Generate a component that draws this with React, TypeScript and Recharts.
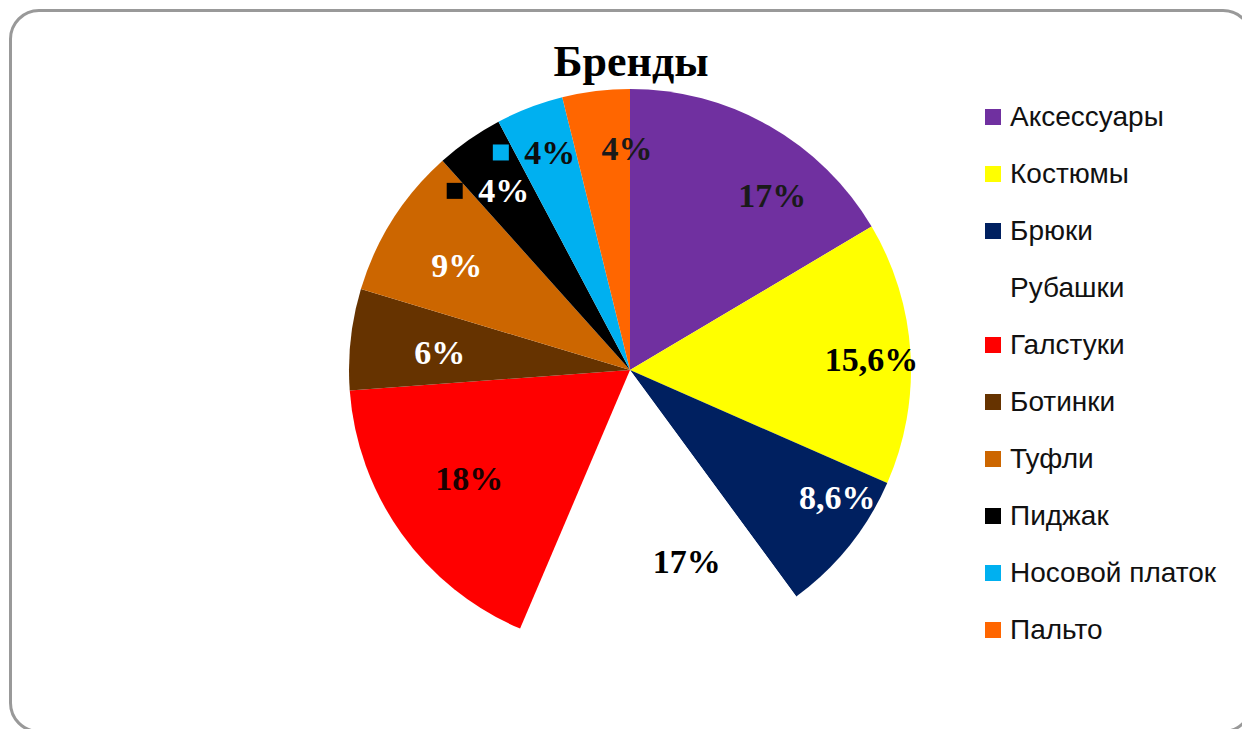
import { PieChart, Pie, Cell, Legend } from 'recharts';

const categories = [
  'Аксессуары',
  'Костюмы',
  'Брюки',
  'Рубашки',
  'Галстуки',
  'Ботинки',
  'Туфли',
  'Пиджак',
  'Носовой платок',
  'Пальто',
];
const shares = [17, 15.6, 8.6, 17, 18, 6, 9, 4, 4, 4];

const colors = [
  '#7030A0',
  '#FFFF00',
  '#002060',
  '#FFFFFF',
  '#FF0000',
  '#663300',
  '#CC6600',
  '#000000',
  '#00B0F0',
  '#FF6600',
];
const labelColors = ['#1a1a1a', '#000', '#fff', '#000', '#1a0000', '#fff', '#fff', '#fff', '#0d0d0d', '#1a1a1a'];
// label placement: [radius as share of outer radius, clockwise angle shift in degrees]
const labelPlace: [number, number][] = [
  [0.8, 9.6],
  [0.86, 1.1],
  [0.865, -7.2],
  [0.71, -9.9],
  [0.69, 1.6],
  [0.68, -0.9],
  [0.72, -1.3],
  [0.78, -0.3],
  [0.825, 0.7],
  [0.79, 6.2],
];
const labelKey = [false, false, false, false, false, false, false, true, true, false];

const data = categories.map((name, i) => ({ name, value: shares[i] }));
const RAD = Math.PI / 180;

const fmt = (v: number) => String(v).replace('.', ',') + '%';

function SliceLabel(props: any) {
  const { cx, cy, midAngle, outerRadius, index, value } = props;
  const [k, shift] = labelPlace[index];
  const a = (midAngle - shift) * RAD;
  const r = outerRadius * k;
  const x = cx + r * Math.cos(a);
  const y = cy - r * Math.sin(a);
  return (
    <g>
      {labelKey[index] && (
        <rect x={x - 57} y={y - 8} width={16} height={16} fill={colors[index]} />
      )}
      <text
        x={x}
        y={y}
        textAnchor="middle"
        dominantBaseline="central"
        fill={labelColors[index]}
        style={{ fontFamily: '"Liberation Serif", "Times New Roman", serif', fontWeight: 700, fontSize: 34 }}
      >
        {fmt(value)}
      </text>
    </g>
  );
}

// keep the legend in the slice order (recharts sorts it by name otherwise)
function LegendList() {
  return (
    <div style={{ fontFamily: '"Liberation Sans", Arial, sans-serif', fontSize: 28, color: '#111' }}>
      {data.map((d, i) => (
        <div key={d.name} style={{ display: 'flex', alignItems: 'center', height: 57 }}>
          <span style={{ width: 16, height: 16, background: colors[i], marginRight: 9, flex: 'none' }} />
          <span>{d.name}</span>
        </div>
      ))}
    </div>
  );
}

export default function App() {
  return (
    <div
      style={{
        position: 'absolute',
        left: 0,
        top: 0,
        width: 1242,
        height: 729,
        overflow: 'hidden',
        background: '#fff',
      }}
    >
      <div
        style={{
          position: 'absolute',
          left: 9,
          top: 9,
          width: 1244,
          height: 724,
          border: '3px solid #999',
          borderRadius: 30,
          boxSizing: 'border-box',
        }}
      />
      <div
        style={{
          position: 'absolute',
          left: 0,
          top: 36,
          width: 1262,
          textAlign: 'center',
          fontFamily: '"Liberation Serif", "Times New Roman", serif',
          fontWeight: 700,
          fontSize: 44,
          color: '#000',
        }}
      >
        Бренды
      </div>
      <div style={{ position: 'absolute', left: 0, top: 0 }}>
        <PieChart width={1242} height={729} margin={{ top: 0, right: 0, bottom: 0, left: 0 }}>
          <Pie
            data={data}
            dataKey="value"
            nameKey="name"
            cx={630}
            cy={370}
            outerRadius={281}
            startAngle={90}
            endAngle={-270}
            stroke="none"
            labelLine={false}
            label={SliceLabel}
            isAnimationActive={false}
          >
            {data.map((d, i) => (
              <Cell key={d.name} fill={colors[i]} />
            ))}
          </Pie>
          <Legend
            layout="vertical"
            align="right"
            verticalAlign="top"
            content={LegendList}
            wrapperStyle={{ left: 985, top: 88, width: 257 }}
          />
        </PieChart>
      </div>
    </div>
  );
}
